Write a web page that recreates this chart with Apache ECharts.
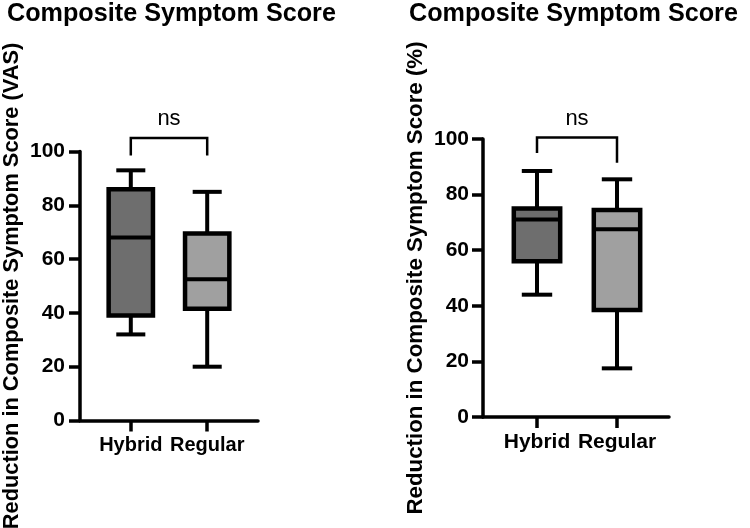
<!DOCTYPE html>
<html>
<head>
<meta charset="utf-8">
<script src="https://cdn.jsdelivr.net/npm/echarts@6/dist/echarts.min.js"></script>
<style>
html, body { margin: 0; padding: 0; background: #fff; }
#chart { width: 750px; height: 528px; }
</style>
</head>
<body>
<div id="chart"></div>
<script>
// groups on the x axis
var groups = ['Hybrid', 'Regular'];
// box values: [min, Q1, median, Q3, max]
var vasHybrid = [32, 39, 68, 86, 93];
var vasRegular = [20, 41.5, 52.5, 69.5, 85];
var pctHybrid = [44, 56, 71, 75, 88.5];
var pctRegular = [17.5, 38.5, 67.5, 74.5, 85.5];
// significance bracket: [left leg end, right leg end, top]
var vasBracket = [98.5, 98.5, 105];
var pctBracket = [95, 91.5, 100.5];
var sigText = 'ns';

var boxFill = ['#6e6e6e', '#a0a0a0'];
var font = 'Liberation Sans, Arial, sans-serif';

function boxRows(a, b) {
    return [[0].concat(a), [1].concat(b)];
}

function renderBox(params, api) {
    var x = api.value(0);
    var lo = api.coord([x, api.value(1)]);
    var q1 = api.coord([x, api.value(2)]);
    var md = api.coord([x, api.value(3)]);
    var q3 = api.coord([x, api.value(4)]);
    var hi = api.coord([x, api.value(5)]);
    var half = api.size([0.58, 0])[0] / 2;
    var cap = api.size([0.38, 0])[0] / 2;
    var ls = { stroke: '#000', lineWidth: 4 };
    var cx = lo[0];
    return {
        type: 'group',
        children: [
            { type: 'line', shape: { x1: cx, y1: lo[1], x2: cx, y2: q1[1] }, style: ls },
            { type: 'line', shape: { x1: cx, y1: q3[1], x2: cx, y2: hi[1] }, style: ls },
            { type: 'line', shape: { x1: cx - cap, y1: lo[1], x2: cx + cap, y2: lo[1] }, style: ls },
            { type: 'line', shape: { x1: cx - cap, y1: hi[1], x2: cx + cap, y2: hi[1] }, style: ls },
            { type: 'rect', shape: { x: cx - half, y: q3[1], width: half * 2, height: q1[1] - q3[1] },
              style: { fill: boxFill[params.dataIndex], stroke: '#000', lineWidth: 4.5 } },
            { type: 'line', shape: { x1: cx - half, y1: md[1], x2: cx + half, y2: md[1] }, style: ls }
        ]
    };
}

function renderBracket(params, api) {
    var l0 = api.coord([0, api.value(0)]);
    var r0 = api.coord([1, api.value(1)]);
    var lt = api.coord([0, api.value(2)]);
    var rt = api.coord([1, api.value(2)]);
    return {
        type: 'group',
        children: [
            { type: 'polyline', shape: { points: [[l0[0], l0[1]], [lt[0], lt[1]], [rt[0], rt[1]], [r0[0], r0[1]]] },
              style: { stroke: '#000', lineWidth: 2.5, fill: null } },
            { type: 'text', x: (lt[0] + rt[0]) / 2, y: lt[1] - 8,
              style: { text: sigText, font: '22px ' + font, fill: '#000', align: 'center', verticalAlign: 'bottom' } }
        ]
    };
}

function xAxis(idx, min, max, size) {
    return {
        type: 'value', gridIndex: idx, min: min, max: max,
        splitLine: { show: false },
        axisLine: { onZero: false, lineStyle: { color: '#000', width: 3.5 } },
        axisTick: { customValues: [0, 1], length: 11, lineStyle: { color: '#000', width: 3.5 } },
        axisLabel: {
            customValues: [0, 1], margin: 15, color: '#000', fontWeight: 'bold', fontSize: size, fontFamily: font,
            formatter: function (v) { return groups[Math.round(v)]; }
        }
    };
}

function yAxis(idx, name, size, gap, margin) {
    return {
        type: 'value', gridIndex: idx, min: 0, max: 100, interval: 20,
        name: name, nameLocation: 'middle', nameGap: gap,
        nameTextStyle: { color: '#000', fontWeight: 'bold', fontSize: size, fontFamily: font },
        splitLine: { show: false },
        axisLine: { show: true, onZero: false, lineStyle: { color: '#000', width: 3.5 } },
        axisTick: { show: true, length: 11, lineStyle: { color: '#000', width: 3.5 } },
        axisLabel: { margin: margin, color: '#000', fontWeight: 'bold', fontSize: 21, fontFamily: font }
    };
}

var chart = echarts.init(document.getElementById('chart'), null, { renderer: 'canvas' });
chart.setOption({
    animation: false,
    backgroundColor: '#fff',
    title: [
        { text: 'Composite Symptom Score', left: 2, top: -3,
          textStyle: { color: '#000', fontWeight: 'bold', fontSize: 25.2, fontFamily: font } },
        { text: 'Composite Symptom Score', left: 404, top: -3,
          textStyle: { color: '#000', fontWeight: 'bold', fontSize: 25.2, fontFamily: font } }
    ],
    grid: [
        { left: 80, top: 151.5, width: 178, height: 269, outerBoundsMode: 'none' },
        { left: 483, top: 139, width: 186, height: 278, outerBoundsMode: 'none' }
    ],
    xAxis: [xAxis(0, -0.665, 1.665, 20), xAxis(1, -0.675, 1.65, 21)],
    yAxis: [
        yAxis(0, 'Reduction in Composite Symptom Score (VAS)', 21.8, 57, 15),
        yAxis(1, 'Reduction in Composite Symptom Score (%)', 22.3, 56, 14)
    ],
    series: [
        { type: 'custom', xAxisIndex: 0, yAxisIndex: 0, renderItem: renderBox,
          encode: { x: 0, y: [1, 2, 3, 4, 5] }, data: boxRows(vasHybrid, vasRegular) },
        { type: 'custom', xAxisIndex: 1, yAxisIndex: 1, renderItem: renderBox,
          encode: { x: 0, y: [1, 2, 3, 4, 5] }, data: boxRows(pctHybrid, pctRegular) },
        { type: 'custom', xAxisIndex: 0, yAxisIndex: 0, renderItem: renderBracket, clip: false,
          encode: { y: [0, 1, 2] }, data: [vasBracket] },
        { type: 'custom', xAxisIndex: 1, yAxisIndex: 1, renderItem: renderBracket, clip: false,
          encode: { y: [0, 1, 2] }, data: [pctBracket] }
    ]
});
</script>
</body>
</html>
